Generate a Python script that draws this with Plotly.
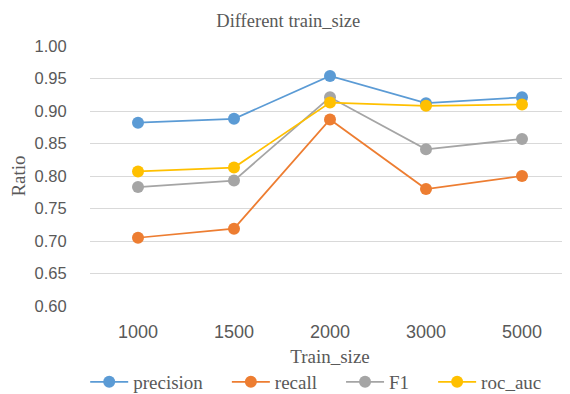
import plotly.graph_objects as go

categories = ["1000", "1500", "2000", "3000", "5000"]
precision = [0.882, 0.888, 0.954, 0.912, 0.921]
recall = [0.705, 0.719, 0.887, 0.780, 0.800]
f1 = [0.783, 0.793, 0.921, 0.841, 0.857]
roc_auc = [0.807, 0.813, 0.913, 0.908, 0.910]
y_ticks = [0.60, 0.65, 0.70, 0.75, 0.80, 0.85, 0.90, 0.95, 1.00]

series = [("precision", precision, "#5B9BD5"),
          ("recall", recall, "#ED7D31"),
          ("F1", f1, "#A5A5A5"),
          ("roc_auc", roc_auc, "#FFC000")]

PAD = "\u00a0" * 4  # extra gap between legend entries

fig = go.Figure()
for name, vals, color in series:
    fig.add_trace(go.Scatter(x=list(range(len(categories))), y=vals, name=name + PAD,
                             mode="lines+markers",
                             line=dict(color=color, width=1.75),
                             marker=dict(color=color, size=12)))

# page body has an 8px default margin: figure is offset by (8, 8)
W, H = 562, 386
serif = "Liberation Serif"
sans = "Liberation Sans"
grey = "#595959"
fig.update_layout(
    width=W, height=H,
    margin=dict(l=82, r=0, t=38, b=H - 38 - 260, autoexpand=False),
    paper_bgcolor="white", plot_bgcolor="white",
    font=dict(family=serif, color=grey),
    title=dict(text="Different train_size", x=280.3 / W, xanchor="center", y=1 - 13 / H, yanchor="middle",
               font=dict(size=18.5, color=grey, family=serif)),
    showlegend=True,
    legend=dict(orientation="h", x=-0.01, xanchor="left", y=-0.292, yanchor="middle",
                font=dict(size=19, color=grey, family=serif), itemwidth=38),
    xaxis=dict(range=[-0.5, 4.5], tickmode="array", automargin=False,
               tickvals=list(range(len(categories))), ticktext=categories,
               showgrid=False, zeroline=False, showline=False,
               ticks="outside", ticklen=9, tickcolor="rgba(0,0,0,0)",
               tickfont=dict(size=18, color=grey, family=sans),
               title=dict(text="Train_size", font=dict(size=19, color=grey, family=serif), standoff=9)),
    yaxis=dict(range=[0.60, 1.00], tickmode="array", tickvals=y_ticks, automargin=False,
               ticktext=[f"{v:.2f}" for v in y_ticks],
               showgrid=True, gridcolor="#D9D9D9", gridwidth=1, zeroline=False, showline=False,
               ticks="outside", ticklen=19, tickcolor="rgba(0,0,0,0)",
               tickfont=dict(size=16.5, color=grey, family=sans),
               title=dict(text="Ratio", font=dict(size=19, color=grey, family=serif), standoff=6)),
)
fig.write_html("out.html")
